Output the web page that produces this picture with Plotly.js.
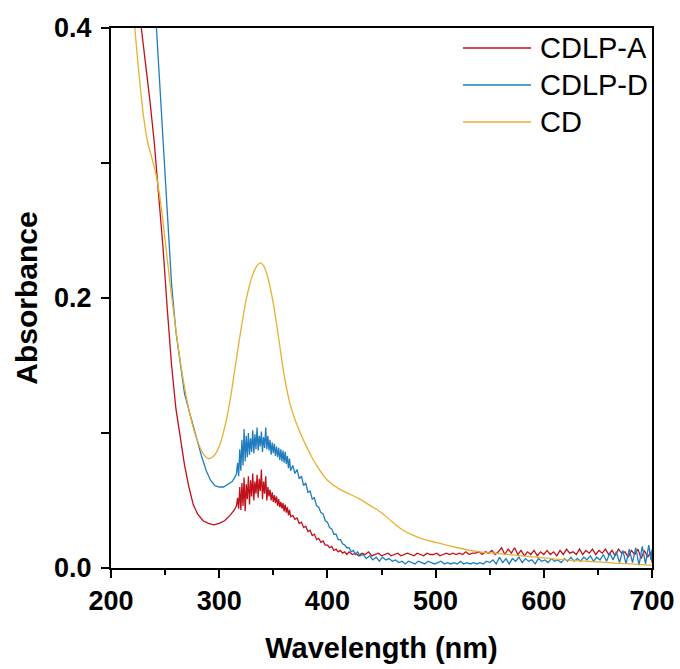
<!DOCTYPE html>
<html>
<head>
<meta charset="utf-8">
<script src="https://cdn.plot.ly/plotly-3.0.1.min.js"></script>
<style>html,body{margin:0;padding:0;background:#fff;}</style>
</head>
<body>
<div id="chart" style="width:680px;height:669px;"></div>
<script>
// ---- Data ----
const seriesNames = ["CDLP-A", "CDLP-D", "CD"];

const wlA = [228,232,236,240,244,248,252,256,260,264,268,272,276,280,285,290,295,300,305,310,314,
  316,317,318,319,320,321,322,323,324,325,326,327,328,329,330,331,332,333,334,335,336,337,338,339,340,
  341,342,343,344,345,346,347,348,349,350,351,352,353,354,355,356,357,358,359,360,361,362,363,364,365,366,
  368,370,372,374,376,378,380,382,384,386,388,390,392,394,396,398,400,402,404,406,408,410,412,414,416,418,420,
  423,426,429,432,435,438,441,444,447,450,453,456,459,462,465,468,471,474,477,480,483,486,489,492,495,498,
  501,504,507,510,513,516,519,522,525,528,531,534,537,540,543,546,549,552,555,558,561,564,567,570,573,576,
  579,582,585,588,591,594,597,600,603,606,609,612,615,618,621,624,627,630,633,636,639,642,645,648,651,654,
  657,660,663,666,669,672,675,678,681,684,687,690,693,696,699,700];
const absA = [0.400,0.374,0.346,0.315,0.278,0.238,0.192,0.150,0.118,0.095,0.076,0.060,0.047,0.040,0.035,0.033,0.032,0.033,0.035,0.039,0.043,
  0.046,0.052,0.044,0.060,0.043,0.063,0.046,0.067,0.042,0.062,0.051,0.068,0.047,0.065,0.053,0.070,0.050,0.064,0.055,0.069,0.052,0.066,0.057,0.073,0.051,
  0.064,0.055,0.068,0.050,0.060,0.053,0.058,0.050,0.056,0.049,0.054,0.048,0.053,0.046,0.051,0.045,0.049,0.044,0.048,0.042,0.047,0.041,0.045,0.039,0.043,0.038,
  0.039,0.036,0.037,0.033,0.034,0.030,0.031,0.027,0.028,0.024,0.025,0.021,0.022,0.019,0.020,0.017,0.017,0.015,0.016,0.013,0.014,0.012,0.013,0.011,0.012,0.010,0.012,
  0.010,0.011,0.009,0.011,0.010,0.012,0.009,0.010,0.011,0.009,0.010,0.011,0.009,0.010,0.011,0.009,0.010,0.011,0.010,0.009,0.011,0.010,0.009,0.011,0.010,0.010,
  0.011,0.009,0.010,0.011,0.010,0.011,0.010,0.011,0.010,0.012,0.010,0.011,0.011,0.012,0.010,0.012,0.011,0.013,0.010,0.012,0.015,0.010,0.014,0.011,0.015,0.010,
  0.013,0.009,0.012,0.010,0.013,0.009,0.012,0.010,0.013,0.010,0.012,0.009,0.013,0.010,0.014,0.011,0.012,0.010,0.014,0.010,0.013,0.011,0.014,0.010,0.013,0.011,
  0.014,0.010,0.013,0.009,0.014,0.011,0.012,0.008,0.013,0.010,0.014,0.007,0.013,0.008,0.012,0.004];

const wlD = [242,245,248,252,256,260,264,268,272,276,280,284,288,292,296,300,304,308,312,315,
  316,317,318,319,320,321,322,323,324,325,326,327,328,329,330,331,332,333,334,335,336,337,338,339,340,
  341,342,343,344,345,346,347,348,349,350,351,352,353,354,355,356,357,358,359,360,361,362,363,364,365,366,
  368,370,372,374,376,378,380,382,384,386,388,390,392,394,396,398,400,402,404,406,408,410,412,414,416,418,420,422,424,426,428,430,
  433,436,439,442,445,448,451,454,457,460,463,466,469,472,475,478,481,484,487,490,493,496,499,502,505,508,511,514,517,520,
  523,526,529,532,535,538,541,544,547,550,553,556,559,562,565,568,571,574,577,580,583,586,589,592,595,598,601,604,607,610,
  613,616,619,622,625,628,631,634,637,640,643,646,649,652,655,658,661,664,667,670,673,676,679,682,685,688,691,694,697,699,700];
const absD = [0.400,0.360,0.315,0.262,0.210,0.175,0.150,0.129,0.117,0.105,0.093,0.082,0.072,0.065,0.061,0.060,0.060,0.062,0.064,0.068,
  0.070,0.078,0.068,0.088,0.072,0.095,0.076,0.103,0.079,0.098,0.082,0.100,0.084,0.096,0.086,0.102,0.085,0.099,0.088,0.104,0.087,0.098,0.090,0.101,0.086,
  0.097,0.089,0.104,0.088,0.098,0.087,0.095,0.084,0.093,0.085,0.092,0.083,0.090,0.082,0.089,0.080,0.088,0.079,0.087,0.078,0.086,0.077,0.083,0.074,0.081,0.072,
  0.076,0.070,0.073,0.066,0.068,0.061,0.063,0.056,0.057,0.051,0.052,0.046,0.045,0.041,0.040,0.035,0.034,0.030,0.029,0.025,0.025,0.021,0.021,0.018,0.017,0.015,0.015,0.012,0.013,0.010,0.012,0.009,
  0.010,0.007,0.009,0.006,0.008,0.005,0.008,0.006,0.007,0.005,0.006,0.004,0.005,0.003,0.005,0.004,0.003,0.005,0.004,0.003,0.005,0.004,0.003,0.004,0.005,0.003,0.004,0.003,0.004,0.003,
  0.005,0.003,0.004,0.003,0.004,0.003,0.004,0.003,0.005,0.004,0.006,0.003,0.008,0.004,0.007,0.003,0.007,0.005,0.008,0.004,0.007,0.005,0.006,0.003,0.007,0.005,0.006,0.004,0.007,0.005,
  0.006,0.004,0.007,0.005,0.008,0.005,0.007,0.005,0.008,0.006,0.009,0.005,0.008,0.006,0.010,0.005,0.011,0.006,0.012,0.004,0.013,0.003,0.014,0.004,0.015,0.002,0.016,0.003,0.017,0.006,0.014];

const wlCD = [222,226,230,234,238,242,246,250,255,260,265,270,275,280,285,290,295,300,305,310,315,320,325,330,335,338,341,345,350,355,360,
  365,370,375,380,385,390,395,400,410,420,430,440,450,460,470,480,490,500,510,520,540,560,580,600,620,640,660,680,700];
const absCD = [0.400,0.365,0.335,0.315,0.303,0.290,0.270,0.243,0.208,0.176,0.148,0.125,0.107,0.094,0.085,0.081,0.083,0.090,0.104,0.124,0.150,0.176,0.199,0.215,0.224,0.226,0.224,0.215,0.196,0.170,0.143,
  0.123,0.110,0.100,0.091,0.083,0.076,0.070,0.065,0.059,0.055,0.051,0.046,0.041,0.034,0.028,0.024,0.021,0.019,0.017,0.015,0.012,0.0105,0.009,0.0075,0.006,0.005,0.004,0.003,0.002];

const xTickVals = [200,300,400,500,600,700];
const yTickVals = [0.0,0.2,0.4];
const yTickText = ["0.0","0.2","0.4"];

// ---- Chart ----
const colors = ["#C0101A", "#1F7DBF", "#E8B030"];
const shapes = ["linear", "linear", "spline"];
const xs = [wlA, wlD, wlCD];
const ys = [absA, absD, absCD];
const traces = seriesNames.map((n, i) => ({
  x: xs[i], y: ys[i], name: n, type: "scatter", mode: "lines",
  line: {color: colors[i], width: 1.3, shape: shapes[i], smoothing: 1}, showlegend: false
}));

const FAM = "Liberation Sans, Arial, sans-serif";
const tickFont = {family: FAM, size: 27, color: "#000", weight: "bold"};
const axisCommon = {
  showgrid: false, zeroline: false, showline: true, linecolor: "#000", linewidth: 2, mirror: true,
  ticks: "outside", ticklen: 8, tickwidth: 2, tickcolor: "#000", tickfont: tickFont
};

// Legend keys (line sample + label), drawn in paper space
const legendRowsY = [48, 85, 122];   // pixel rows of the legend entries
const plotTop = 28, plotH = 540, plotL = 111, plotW = 541;
const legShapes = seriesNames.map((n, i) => ({
  type: "line", xref: "paper", yref: "paper",
  x0: (463 - plotL) / plotW, x1: (531 - plotL) / plotW,
  y0: 1 - (legendRowsY[i] - plotTop) / plotH, y1: 1 - (legendRowsY[i] - plotTop) / plotH,
  line: {color: colors[i], width: 1.3}
}));
const legAnn = seriesNames.map((n, i) => ({
  text: n, xref: "paper", yref: "paper", showarrow: false,
  x: (538 - plotL) / plotW, y: 1 - (legendRowsY[i] - plotTop) / plotH,
  xanchor: "left", yanchor: "middle",
  font: {family: FAM, size: 29, color: "#000"}
}));

const layout = {
  width: 680, height: 669,
  margin: {l: 111, r: 28, t: 28, b: 101},
  paper_bgcolor: "#fff", plot_bgcolor: "#fff",
  showlegend: false,
  shapes: legShapes,
  annotations: legAnn,
  xaxis: Object.assign({}, axisCommon, {
    range: [200, 700], tickvals: xTickVals,
    minor: {dtick: 50, ticks: "outside", ticklen: 5, tickwidth: 2, tickcolor: "#000"},
    title: {text: "Wavelength (nm)", standoff: 22,
      font: {family: FAM, size: 29, color: "#000", weight: "bold"}}
  }),
  yaxis: Object.assign({}, axisCommon, {
    range: [0, 0.4], tickvals: yTickVals, ticktext: yTickText, ticklabelstandoff: 4,
    minor: {dtick: 0.1, ticks: "outside", ticklen: 8, tickwidth: 2, tickcolor: "#000"},
    title: {text: "Absorbance", standoff: 8,
      font: {family: FAM, size: 30, color: "#000", weight: "bold"}}
  })
};

Plotly.newPlot("chart", traces, layout, {displayModeBar: false, staticPlot: true});
</script>
</body>
</html>
